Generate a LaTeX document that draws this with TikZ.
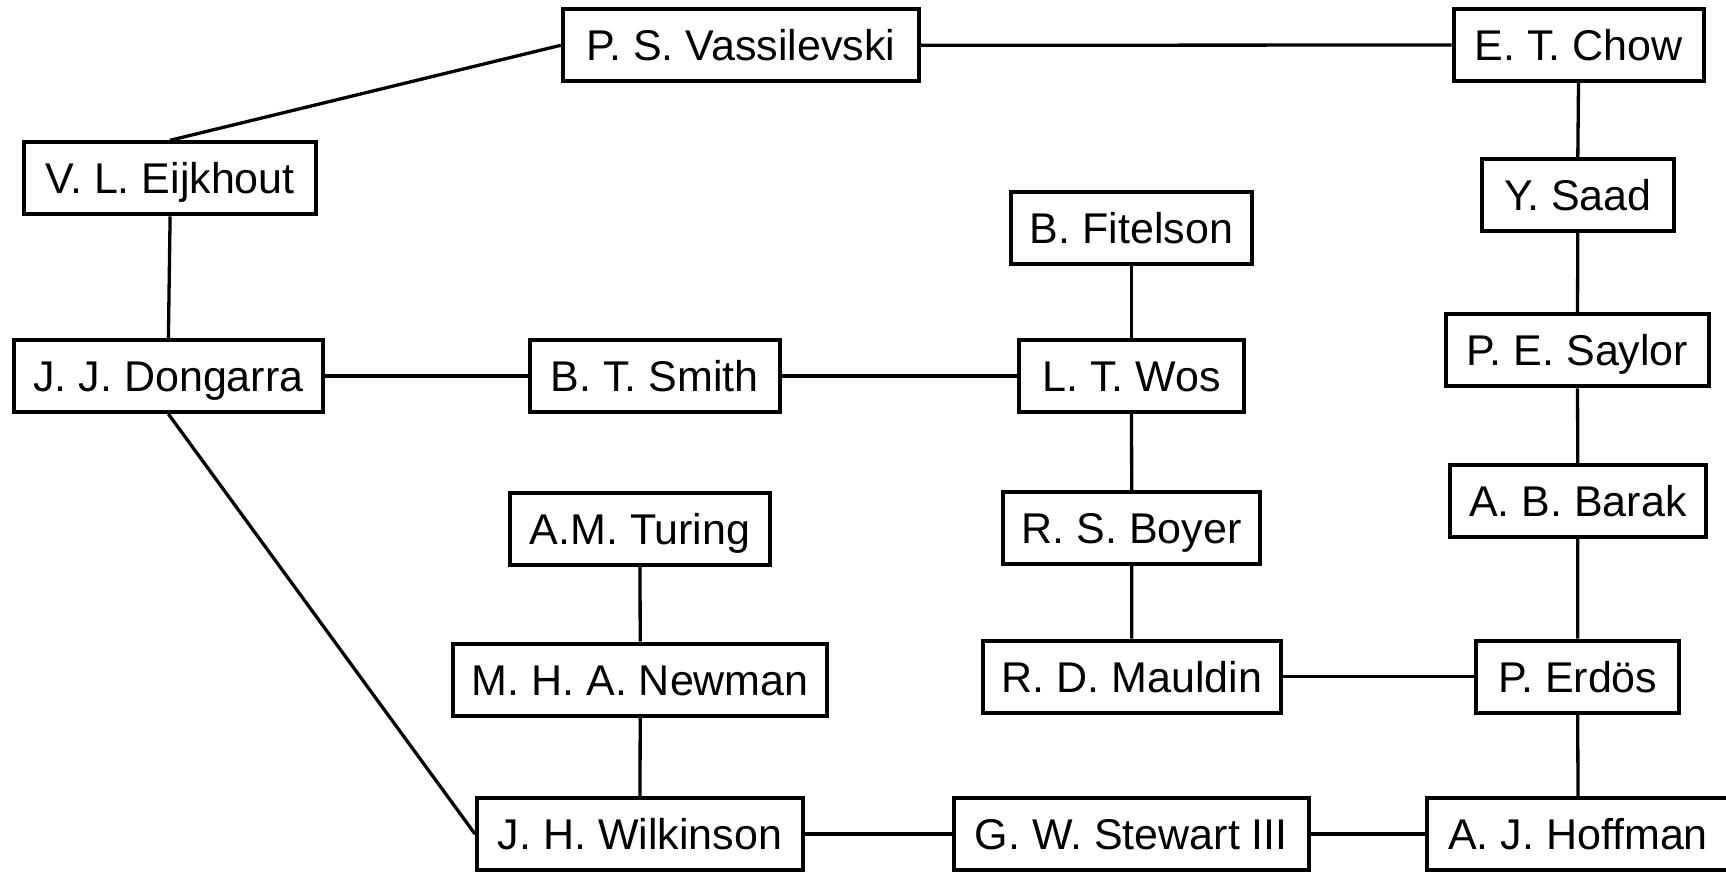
\documentclass[tikz,border=0pt]{standalone}
\usepackage{fontspec}
\setmainfont{Liberation Sans}
\begin{document}
\begin{tikzpicture}[x=1pt,y=-1pt,
  person/.style={draw=black, line width=4pt, fill=white, rectangle,
    minimum height=72pt, inner xsep=4pt, inner ysep=0pt,
    text height=31pt, text depth=0pt,
    font=\fontsize{43}{51}\selectfont, minimum width=#1},
  link/.style={line width=3.3pt, draw=black}]
\useasboundingbox (0,0) rectangle (1726,874);
\clip (0,0) rectangle (1726,874);

% column of numerical-analysis contacts on the right
\node[person=356pt]   (vas) at (740.8,45.3)  {P. S. Vassilevski};
\node[person=250pt]   (cho) at (1578.5,45)   {E. T. Chow};
\node[person=192.4pt] (saa) at (1577.8,195)  {Y. Saad};
\node[person=263.7pt] (say) at (1577.5,350.3){P. E. Saylor};
\node[person=255.7pt] (bar) at (1577.8,501.2){A. B. Barak};
\node[person=203.3pt] (erd) at (1577.7,676.5){P. Erdös};
\node[person=302pt]   (hof) at (1578,834)    {A. J. Hoffman};

% left side
\node[person=292.6pt] (eij) at (170.1,178.3) {V. L. Eijkhout};
\node[person=309.3pt] (don) at (168.4,376)   {J. J. Dongarra};
\node[person=250pt]   (smi) at (654.5,376)   {B. T. Smith};

% middle column
\node[person=241pt]   (fit) at (1131.5,228.3){B. Fitelson};
\node[person=225pt]   (wos) at (1131.5,376)  {L. T. Wos};
\node[person=257.5pt] (boy) at (1131.7,528)  {R. S. Boyer};
\node[person=298.4pt] (mau) at (1131.8,676.5){R. D. Mauldin};
\node[person=355.4pt] (ste) at (1131.3,834)  {G. W. Stewart III};

% Turing's line
\node[person=260pt]   (tur) at (640,528.7)   {A.M. Turing};
\node[person=374.5pt] (new) at (640.2,679.7) {M. H. A. Newman};
\node[person=326pt]   (wil) at (640,834)     {J. H. Wilkinson};

% connections
\draw[link] (vas.west) -- (eij.north);
\draw[link] (vas.east) -- (cho.west);
\draw[link] (cho.south) -- (saa.north);
\draw[link] (saa.south) -- (say.north);
\draw[link] (say.south) -- (bar.north);
\draw[link] (bar.south) -- (erd.north);
\draw[link] (erd.south) -- (hof.north);
\draw[link] (eij.south) -- (don.north);
\draw[link] (don.east) -- (smi.west);
\draw[link] (smi.east) -- (wos.west);
\draw[link] (fit.south) -- (wos.north);
\draw[link] (wos.south) -- (boy.north);
\draw[link] (boy.south) -- (mau.north);
\draw[link] (mau.east) -- (erd.west);
\draw[link] (don.south) -- (wil.west);
\draw[link] (tur.south) -- (new.north);
\draw[link] (new.south) -- (wil.north);
\draw[link] (wil.east) -- (ste.west);
\draw[link] (ste.east) -- (hof.west);
\end{tikzpicture}
\end{document}
